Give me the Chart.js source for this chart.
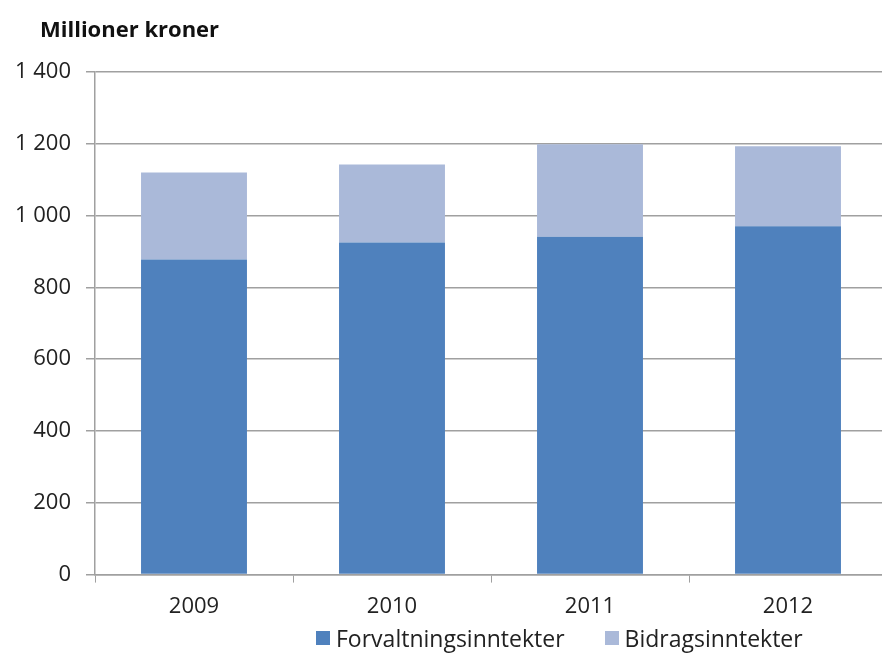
<!DOCTYPE html>
<html>
<head>
<meta charset="utf-8">
<script src="https://cdn.jsdelivr.net/npm/chart.js@4"></script>
<style>
  body { margin: 0; overflow: hidden; background: #fff; font-family: "Open Sans", sans-serif; }
  #wrap { position: relative; width: 890px; height: 653px; }
  #title { position: absolute; left: 40px; top: 13px; font-weight: bold; font-size: 22px; color: #111; }
  #legend { position: absolute; left: 316px; top: 622px; font-size: 23px; color: #222; display: flex; align-items: center; line-height: 32px; }
  #legend span.box { display: inline-block; width: 14px; height: 14px; margin-right: 6px; }
  #legend span.item { display: flex; align-items: center; margin-right: 40px; }
</style>
</head>
<body>
<div id="wrap">
  <canvas id="chart" width="890" height="653"></canvas>
  <div id="title">Millioner kroner</div>
  <div id="legend"></div>
</div>
<script>
const years = ['2009', '2010', '2011', '2012'];
const forvaltning = [878, 925, 941, 970];
const bidrag = [242, 217, 258, 223];
const seriesNames = ['Forvaltningsinntekter', 'Bidragsinntekter'];
const colors = ['#4F81BD', '#AAB9D9'];

const fmt = v => v.toString().replace(/\B(?=(\d{3})+(?!\d))/g, ' ');

const chart = new Chart(document.getElementById('chart'), {
  type: 'bar',
  data: {
    labels: years,
    datasets: [
      { label: seriesNames[0], data: forvaltning, backgroundColor: colors[0] },
      { label: seriesNames[1], data: bidrag, backgroundColor: colors[1] }
    ]
  },
  options: {
    responsive: false,
    animation: false,
    layout: { padding: { top: 72, bottom: 22, left: 0, right: 3 } },
    plugins: { legend: { display: false }, tooltip: { enabled: false } },
    datasets: { bar: { categoryPercentage: 1, barPercentage: 0.535 } },
    scales: {
      x: {
        stacked: true,
        grid: { drawOnChartArea: false, drawTicks: true, tickLength: 8, color: '#a0a0a0' },
        border: { color: '#a0a0a0', width: 1.5 },
        ticks: { color: '#222', font: { family: 'Open Sans', size: 22 }, padding: 11 }
      },
      y: {
        stacked: true,
        min: 0, max: 1400,
        afterFit: s => { s.width = 95; },
        grid: { color: '#a0a0a0', lineWidth: 1.5, tickLength: 9 },
        border: { color: '#a0a0a0', width: 1.5 },
        ticks: { stepSize: 200, color: '#222', font: { family: 'Open Sans', size: 22 }, padding: 15, callback: v => fmt(v) }
      }
    }
  }
});

const legend = document.getElementById('legend');
seriesNames.forEach((n, i) => {
  const item = document.createElement('span');
  item.className = 'item';
  item.innerHTML = '<span class="box" style="background:' + colors[i] + '"></span>' + n;
  legend.appendChild(item);
});
</script>
</body>
</html>
